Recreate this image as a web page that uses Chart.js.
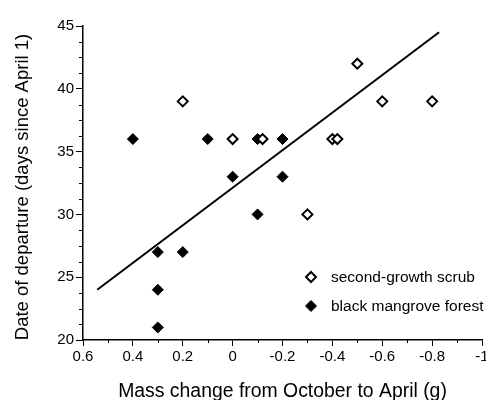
<!DOCTYPE html>
<html>
<head>
<meta charset="utf-8">
<script src="https://cdn.jsdelivr.net/npm/chart.js@4"></script>
<style>
    body { margin: 0; background: #fff; overflow: hidden; }
    canvas { display: block; }
</style>
</head>
<body>
<canvas id="chart1" width="489" height="400"></canvas>
<script>
// Second-growth scrub birds (open diamonds).
const SCRUB_MASS = [0.2, 0, -0.12, -0.4, -0.42, -0.5, -0.6, -0.8, -0.3];
const SCRUB_DEPARTURE = [39, 36, 36, 36, 36, 42, 39, 39, 30];
// Black mangrove forest birds (filled diamonds).
const MANGROVE_MASS = [0.4, 0.1, -0.1, -0.2, 0, -0.2, -0.1, 0.3, 0.2, 0.3, 0.3];
const MANGROVE_DEPARTURE = [36, 36, 36, 36, 33, 33, 30, 27, 27, 24, 21];
// Regression line end points.
const FIT_MASS = [0.543, -0.828];
const FIT_DEPARTURE = [24.0, 44.5];
// Legend labels and axis titles.
const SERIES_LABELS = ['second-growth scrub', 'black mangrove forest'];
const X_TITLE = 'Mass change from October to April (g)';
const Y_TITLE = 'Date of departure (days since April 1)';

const FONT = "'Liberation Sans', Arial, Helvetica, sans-serif";

// Turns two arrays into {x, y} points.
const toPoints = (xs, ys) => xs.map((x, i) => ({ x: x, y: ys[i] }));

// Plugin that draws the small minor ticks on both axes.
const minorTicks = {
    id: 'minorTicks',
    afterDraw(chart) {
        const ctx = chart.ctx;
        const xs = chart.scales.x;
        const ys = chart.scales.y;
        const area = chart.chartArea;
        ctx.save();
        ctx.strokeStyle = '#000';
        ctx.lineWidth = 1;
        ctx.beginPath();
        for (let i = 1; i < 16; i += 2) {
            const px = Math.round(xs.getPixelForValue(-1 + i * 0.1)) + 0.5;
            ctx.moveTo(px, area.bottom);
            ctx.lineTo(px, area.bottom + 3);
        }
        for (let v = 20; v < 45; v += 5) {
            for (let k = 1; k < 4; k++) {
                const py = Math.round(ys.getPixelForValue(v + k * 1.25)) + 0.5;
                ctx.moveTo(area.left - 4, py);
                ctx.lineTo(area.left, py);
            }
        }
        ctx.stroke();
        ctx.restore();
    }
};

// Plugin that draws the y axis title, a little below the plot centre.
const yTitle = {
    id: 'yTitle',
    afterDraw(chart) {
        const ctx = chart.ctx;
        const area = chart.chartArea;
        ctx.save();
        ctx.translate(23, (area.top + area.bottom) / 2 + 4);
        ctx.rotate(-Math.PI / 2);
        ctx.font = '18.5px ' + FONT;
        ctx.textAlign = 'center';
        ctx.textBaseline = 'middle';
        ctx.fillStyle = '#000';
        ctx.fillText(Y_TITLE, 0, 0);
        ctx.restore();
    }
};

// Plugin that draws the legend inside the plot area.
const innerLegend = {
    id: 'innerLegend',
    afterDraw(chart) {
        const ctx = chart.ctx;
        const area = chart.chartArea;
        const x = area.left + 228;
        const rows = [area.top + 251, area.top + 280];
        ctx.save();
        ctx.font = '15.5px ' + FONT;
        ctx.textBaseline = 'middle';
        ctx.fillStyle = '#000';
        rows.forEach((y, i) => {
            const ds = chart.data.datasets[i];
            ctx.beginPath();
            ctx.moveTo(x - ds.pointRadius, y);
            ctx.lineTo(x, y - ds.pointRadius);
            ctx.lineTo(x + ds.pointRadius, y);
            ctx.lineTo(x, y + ds.pointRadius);
            ctx.closePath();
            ctx.fillStyle = ds.pointBackgroundColor;
            ctx.fill();
            ctx.lineWidth = ds.pointBorderWidth;
            ctx.strokeStyle = '#000';
            ctx.stroke();
            ctx.fillStyle = '#000';
            ctx.fillText(SERIES_LABELS[i], x + 20, y + 1);
        });
        ctx.restore();
    }
};

document.addEventListener('DOMContentLoaded', () => {
    Chart.defaults.font.family = FONT;
    Chart.defaults.color = '#000';
    const ctx = document.getElementById('chart1').getContext('2d');
    new Chart(ctx, {
        type: 'scatter',
        data: {
            datasets: [{
                label: SERIES_LABELS[0],
                data: toPoints(SCRUB_MASS, SCRUB_DEPARTURE),
                pointStyle: 'rectRot',
                pointRadius: 5,
                pointBorderWidth: 2,
                pointBackgroundColor: '#fff',
                pointBorderColor: '#000'
            }, {
                label: SERIES_LABELS[1],
                data: toPoints(MANGROVE_MASS, MANGROVE_DEPARTURE),
                pointStyle: 'rectRot',
                pointRadius: 5.5,
                pointBorderWidth: 1,
                pointBackgroundColor: '#000',
                pointBorderColor: '#000'
            }, {
                label: 'fit',
                data: toPoints(FIT_MASS, FIT_DEPARTURE),
                showLine: true,
                borderColor: '#000',
                borderWidth: 2,
                pointRadius: 0,
                order: 1
            }]
        },
        options: {
            responsive: false,
            animation: false,
            layout: {
                padding: { left: 0, top: 26, right: 0, bottom: 0 }
            },
            plugins: {
                legend: { display: false },
                tooltip: { enabled: false }
            },
            scales: {
                x: {
                    type: 'linear',
                    reverse: true,
                    min: -1,
                    max: 0.6,
                    border: { color: '#000', width: 1.5 },
                    grid: { drawOnChartArea: false, color: '#000', tickLength: 6, tickWidth: 1 },
                    ticks: {
                        stepSize: 0.2,
                        autoSkip: false,
                        maxRotation: 0,
                        padding: 2,
                        font: { size: 15 },
                        callback: value => String(Math.round(value * 10) / 10)
                    },
                    title: {
                        display: true,
                        text: X_TITLE,
                        font: { size: 19.4 },
                        padding: { top: 0, bottom: -3 }
                    },
                    afterFit: scale => {
                        scale.height = 60;
                        scale.paddingLeft = 0;
                        scale.paddingRight = 0;
                    }
                },
                y: {
                    type: 'linear',
                    min: 20,
                    max: 45,
                    border: { color: '#000', width: 1.5 },
                    grid: { drawOnChartArea: false, color: '#000', tickLength: 7, tickWidth: 1 },
                    ticks: {
                        stepSize: 5,
                        padding: 2,
                        font: { size: 15 }
                    },
                    afterFit: scale => {
                        scale.width = 83;
                        scale.paddingTop = 0;
                        scale.paddingBottom = 0;
                    }
                }
            }
        },
        plugins: [minorTicks, yTitle, innerLegend]
    });
});
</script>
</body>
</html>
